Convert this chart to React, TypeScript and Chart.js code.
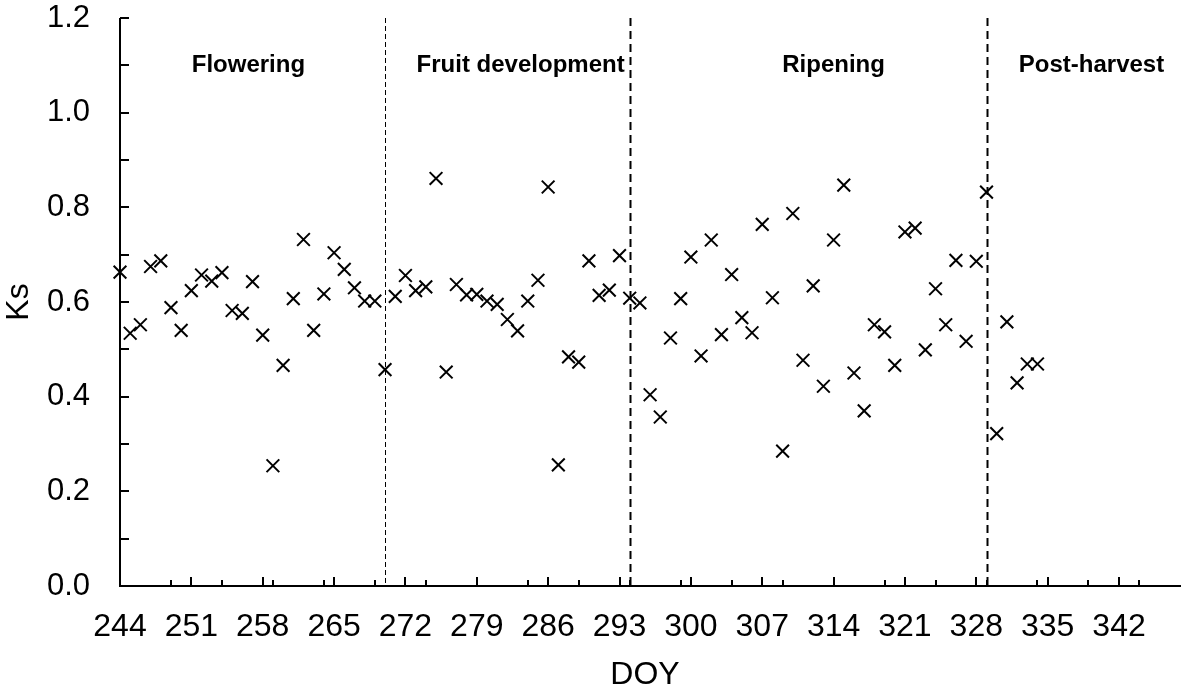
import React, { useEffect, useRef } from "react";
import { Chart, registerables, Plugin } from "chart.js";

Chart.register(...registerables);

const FONT = '"Liberation Sans", Arial, Helvetica, sans-serif';

// day of year of each observation
const doy = [
  244, 245, 246, 247, 248, 249, 250, 251, 252, 253, 254, 255, 256, 257, 258, 259,
  260, 261, 262, 263, 264, 265, 266, 267, 268, 269, 270, 271, 272, 273, 274, 275,
  276, 277, 278, 279, 280, 281, 282, 283, 284, 285, 286, 287, 288, 289, 290, 291,
  292, 293, 294, 295, 296, 297, 298, 299, 300, 301, 302, 303, 304, 305, 306, 307,
  308, 309, 310, 311, 312, 313, 314, 315, 316, 317, 318, 319, 320, 321, 322, 323,
  324, 325, 326, 327, 328, 329, 330, 331, 332, 333, 334,
];

// Ks value for each day
const ks = [
  0.663, 0.534, 0.552, 0.675, 0.687, 0.588, 0.54, 0.624, 0.657, 0.644, 0.662, 0.582,
  0.576, 0.643, 0.53, 0.254, 0.466, 0.607, 0.732, 0.54, 0.617, 0.704, 0.669, 0.63,
  0.602, 0.602, 0.457, 0.612, 0.656, 0.624, 0.632, 0.861, 0.452, 0.637, 0.615, 0.616,
  0.602, 0.595, 0.563, 0.539, 0.602, 0.646, 0.843, 0.256, 0.484, 0.473, 0.687, 0.614,
  0.625, 0.698, 0.608, 0.598, 0.404, 0.357, 0.524, 0.607, 0.695, 0.486, 0.731, 0.531,
  0.658, 0.567, 0.535, 0.764, 0.609, 0.285, 0.787, 0.477, 0.634, 0.422, 0.731, 0.847,
  0.45, 0.37, 0.552, 0.537, 0.466, 0.748, 0.756, 0.499, 0.628, 0.552, 0.688, 0.517,
  0.686, 0.832, 0.322, 0.558, 0.429, 0.469, 0.469,
];

// labelled x ticks (weekly)
const xTickLabels = [244, 251, 258, 265, 272, 279, 286, 293, 300, 307, 314, 321, 328, 335, 342];

// stage boundaries (DOY) and stage names
const stageBounds = [270, 294, 329];
const stageNames = ["Flowering", "Fruit development", "Ripening", "Post-harvest"];
const stageLabelDoy = [256.6, 283.3, 314, 339.3];
const stageLabelKs = 1.1;

const xMin = 244;
const xMax = 347;
const xMinorStep = 5;
const yStep = 0.2;
const yMinorStep = 0.1;

const framePlugin: Plugin<"scatter"> = {
  id: "frame",
  beforeDatasetsDraw(chart) {
    const { ctx, chartArea: a } = chart;
    const x = chart.scales.x;
    const y = chart.scales.y;
    ctx.save();
    ctx.strokeStyle = "#000";

    // dashed stage boundaries
    stageBounds.forEach((d, i) => {
      const px = Math.round(x.getPixelForValue(d)) + 0.5;
      ctx.lineWidth = i === 0 ? 1 : 2;
      ctx.setLineDash(i === 0 ? [5, 3] : [8, 5]);
      ctx.beginPath();
      ctx.moveTo(px, a.top);
      ctx.lineTo(px, a.bottom);
      ctx.stroke();
    });
    ctx.setLineDash([]);

    // axis lines (the x axis runs on to the right edge)
    ctx.lineWidth = 2;
    ctx.beginPath();
    ctx.moveTo(a.left, a.top);
    ctx.lineTo(a.left, a.bottom);
    ctx.lineTo(chart.width, a.bottom);
    ctx.stroke();

    // y ticks, pointing inward
    for (let v = y.min; v <= y.max + 1e-9; v += yMinorStep) {
      const py = Math.round(y.getPixelForValue(v));
      ctx.beginPath();
      ctx.moveTo(a.left, py);
      ctx.lineTo(a.left + 9, py);
      ctx.stroke();
    }

    // x ticks: labelled every 7 days, short ones every 5 days
    x.ticks.forEach((t) => {
      const px = Math.round(x.getPixelForValue(t.value));
      ctx.beginPath();
      ctx.moveTo(px, a.bottom);
      ctx.lineTo(px, a.bottom - 9);
      ctx.stroke();
    });
    for (let v = x.min + xMinorStep; v <= x.max; v += xMinorStep) {
      const px = Math.round(x.getPixelForValue(v));
      ctx.beginPath();
      ctx.moveTo(px, a.bottom);
      ctx.lineTo(px, a.bottom - 6);
      ctx.stroke();
    }
    ctx.restore();
  },
  afterDatasetsDraw(chart) {
    const { ctx } = chart;
    const x = chart.scales.x;
    const y = chart.scales.y;
    ctx.save();
    ctx.fillStyle = "#000";
    ctx.font = `bold 24px ${FONT}`;
    ctx.textAlign = "center";
    ctx.textBaseline = "middle";
    stageNames.forEach((name, i) => {
      ctx.fillText(name, x.getPixelForValue(stageLabelDoy[i]), y.getPixelForValue(stageLabelKs));
    });
    ctx.restore();
  },
};

const App: React.FC = () => {
  const canvasRef = useRef<HTMLCanvasElement | null>(null);

  useEffect(() => {
    document.body.style.margin = "0";
    document.body.style.overflow = "hidden";
    if (!canvasRef.current) return;

    const chart = new Chart(canvasRef.current, {
      type: "scatter",
      data: {
        datasets: [
          {
            label: "Ks",
            data: doy.map((d, i) => ({ x: d, y: ks[i] })),
            pointStyle: "crossRot",
            pointRadius: 9,
            pointHoverRadius: 9,
            borderColor: "#000",
            backgroundColor: "#000",
            borderWidth: 2,
            clip: false,
          },
        ],
      },
      options: {
        responsive: false,
        animation: false,
        // right padding matches the point overflow Chart.js reserves anyway
        layout: { padding: { top: 18, right: 10, left: 0, bottom: 0 } },
        plugins: {
          legend: { display: false },
          tooltip: { enabled: false },
        },
        scales: {
          x: {
            type: "linear",
            min: xMin,
            max: xMax,
            grid: { display: false, drawTicks: false },
            border: { display: false },
            afterBuildTicks: (s) => {
              s.ticks = xTickLabels.map((v) => ({ value: v }));
            },
            ticks: {
              color: "#000",
              font: { family: FONT, size: 32 },
              padding: 22,
              maxRotation: 0,
              autoSkip: false,
            },
            title: {
              display: true,
              text: "DOY",
              color: "#000",
              font: { family: FONT, size: 32 },
              padding: { top: 0, bottom: 3 },
            },
            afterFit: (s) => {
              s.height = 111;
              s.paddingLeft = 0;
              s.paddingRight = 0;
            },
          },
          y: {
            min: 0,
            max: 1.2,
            grid: { display: false, drawTicks: false },
            border: { display: false },
            ticks: {
              stepSize: yStep,
              color: "#000",
              font: { family: FONT, size: 31 },
              padding: 30,
              callback: (v) => Number(v).toFixed(1),
            },
            title: {
              display: true,
              text: "Ks",
              color: "#000",
              font: { family: FONT, size: 32 },
              padding: { top: 0, bottom: 0 },
            },
            afterFit: (s) => {
              s.width = 120;
              s.paddingTop = 0;
              s.paddingBottom = 0;
            },
          },
        },
      },
      plugins: [framePlugin],
    });

    return () => {
      chart.destroy();
    };
  }, []);

  return (
    <div style={{ width: 1181, height: 697, overflow: "hidden", background: "#fff" }}>
      <canvas ref={canvasRef} width={1181} height={697} style={{ display: "block" }}></canvas>
    </div>
  );
};

export default App;
